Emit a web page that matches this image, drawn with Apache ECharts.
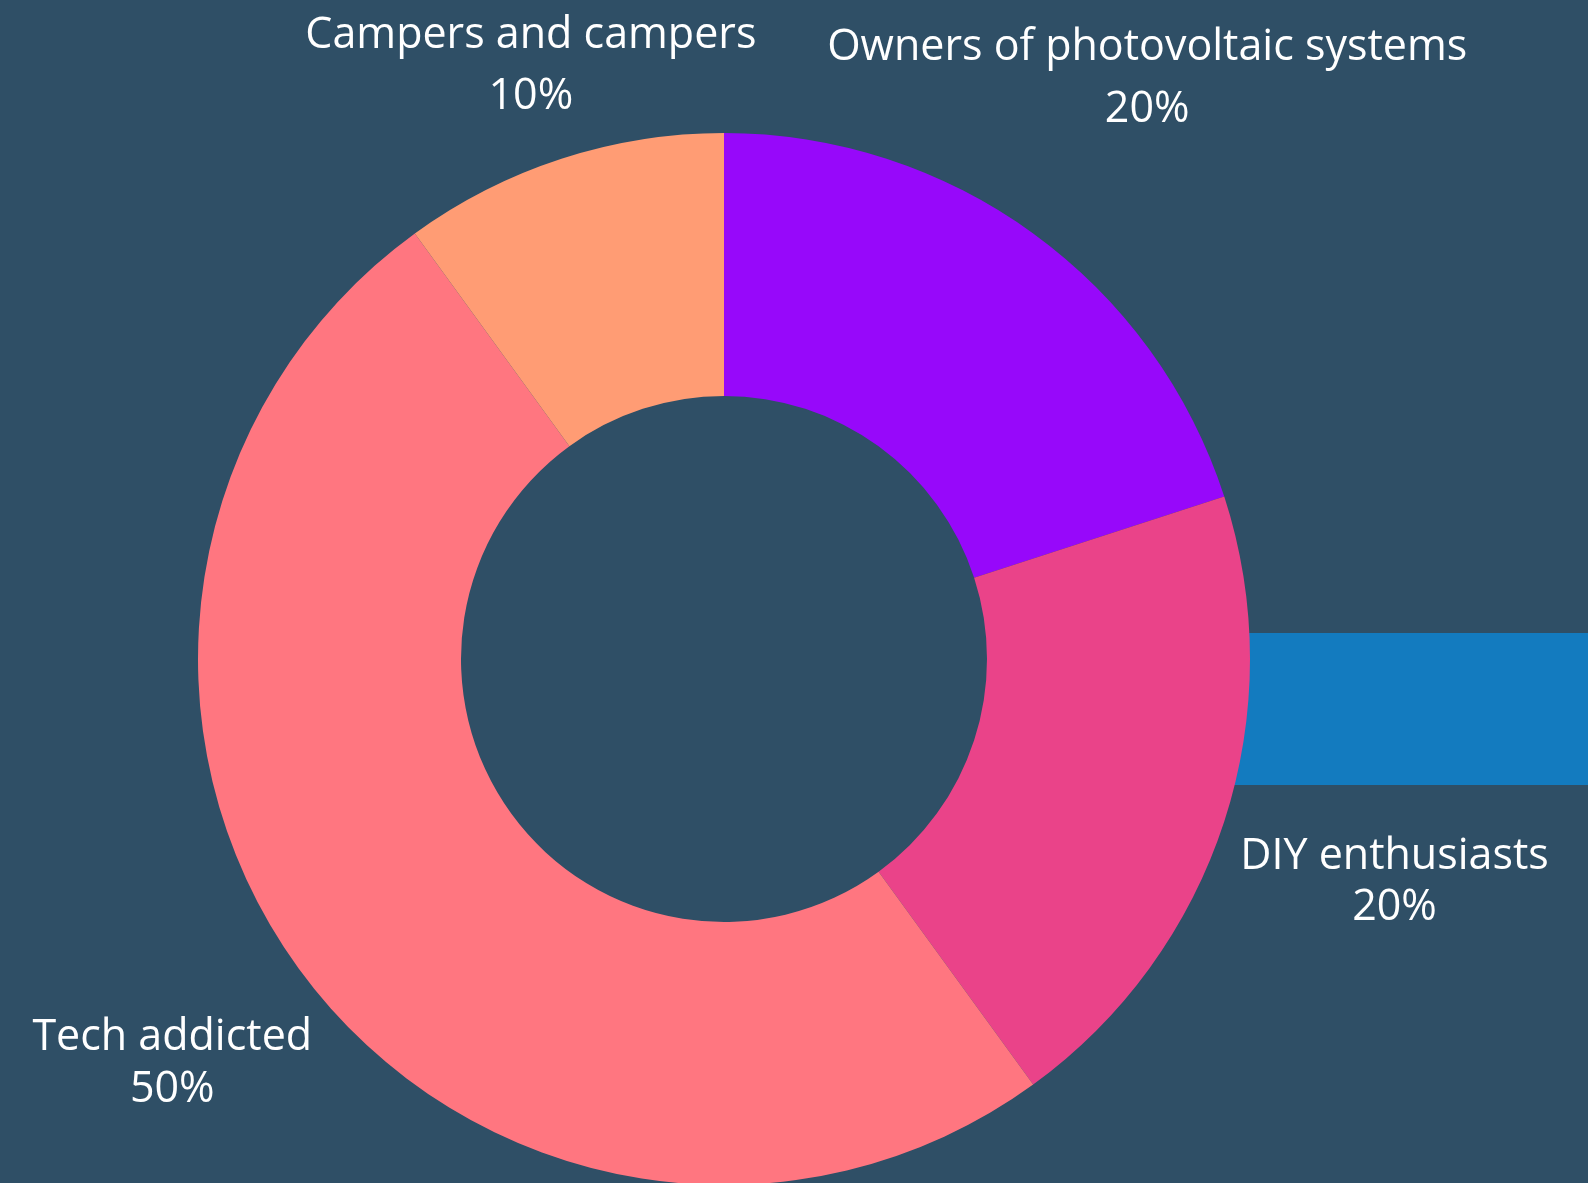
<!DOCTYPE html>
<html><head><meta charset="utf-8">
<script src="https://cdn.jsdelivr.net/npm/echarts@6/dist/echarts.min.js"></script>
<style>html,body{margin:0;padding:0;background:#2f4f66;overflow:hidden}#c{width:1588px;height:1183px}</style>
</head>
<body><div id="c"></div>
<script>
// Data
const categories = ['Owners of photovoltaic systems', 'DIY enthusiasts', 'Tech addicted', 'Campers and campers'];
const values = [20, 20, 50, 10];

// Styles (kept separate from data)
const colors = ['#9708fa', '#ea4389', '#ff7680', '#ff9c74'];
const labelRadius = [720, 705, 682, 625];
const labelDy = [2, 5, 4, 2];
const labelLineHeights = [62, 51, 52, 61];
const CX = 724, CY = 659;

const total = values.reduce((a, b) => a + b, 0);
const mids = [];
let cum = 0;
values.forEach(v => { mids.push((cum + v / 2) / total * 2 * Math.PI); cum += v; });

const chart = echarts.init(document.getElementById('c'), null, {renderer: 'canvas'});
chart.setOption({
  backgroundColor: '#2f4f66',
  animation: false,
  graphic: [{
    type: 'rect', z: 0,
    shape: {x: 1120, y: 633, width: 1588 - 1120, height: 152},
    style: {fill: '#137bbf'}
  }],
  series: [{
    type: 'pie', z: 2,
    center: [CX, CY],
    radius: [263, 526],
    startAngle: 90,
    clockwise: true,
    avoidLabelOverlap: false,
    emphasis: {disabled: true},
    label: {
      show: true, position: 'outside',
      formatter: '{b}\n{c}%',
      color: '#ffffff',
      fontFamily: 'Open Sans',
      fontSize: 43,
      width: 800,
      align: 'center'
    },
    labelLine: {show: false},
    labelLayout: p => {
      const i = p.dataIndex;
      return {
        x: CX + labelRadius[i] * Math.sin(mids[i]),
        y: CY - labelRadius[i] * Math.cos(mids[i]) + labelDy[i],
        align: 'center', verticalAlign: 'middle'
      };
    },
    data: categories.map((n, i) => ({
      name: n, value: values[i],
      itemStyle: {color: colors[i], borderWidth: 0},
      label: {lineHeight: labelLineHeights[i]}
    }))
  }]
});
</script>
</body></html>
